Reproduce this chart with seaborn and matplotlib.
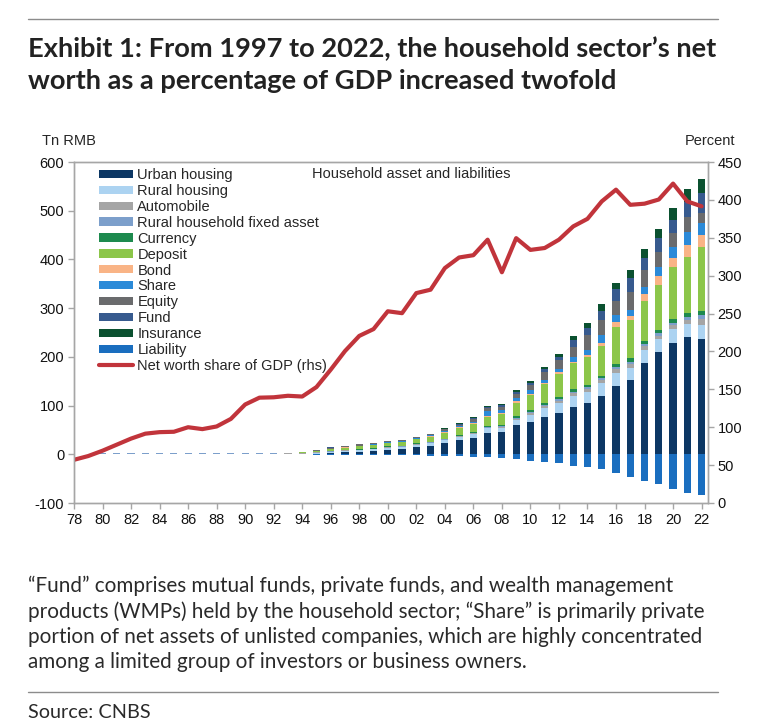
"""Exhibit 1: household assets and liabilities with net worth share of GDP."""
import matplotlib
matplotlib.use("Agg")
import matplotlib.pyplot as plt
from matplotlib.lines import Line2D
from matplotlib.patches import Patch
from matplotlib import font_manager
import pandas as pd
import seaborn as sns

# ---- data (Tn RMB, bars 1980-2022; line in percent, 1978-2022) ----
YEARS = list(range(1980, 2023))
LINE_YEARS = list(range(1978, 2023))

URBAN_HOUSING = [0, 0, 0, 0, 0, 0, 0, 0, 0, 0, 0, 0, 0, 0, 0,
                 0.8, 2, 4, 5, 6.5, 9.8, 10.5, 15.3, 18, 22.8, 29.5, 33, 44.5, 45.2, 60.3,
                 67.2, 77.3, 85.5, 97.8, 104.7, 120.4, 140.3, 152.6, 186.8, 209.4, 229.2, 240.2, 237.4]
RURAL_HOUSING = [0.3, 0.3, 0.3, 0.3, 0.3, 0.3, 0.4, 0.4, 0.4, 0.4, 0.5, 0.5, 0.6, 0.8, 1.0,
                 2.8, 3.3, 3.5, 3.8, 4.0, 4.0, 4.5, 4.5, 5.0, 6.0, 6.5, 9.0, 8.5, 9.0, 10,
                 14, 17, 20, 21.9, 24, 26.7, 27.3, 23.9, 27.4, 26.7, 27.4, 27.3, 28.1]
AUTOMOBILE = [1.0, 1.0, 1.0, 1.0, 1.0, 1.0, 1.0, 1.0, 1.0, 1.0, 1.0, 1.0, 1.0, 1.0, 1.0,
              0.3, 0.4, 0.4, 0.5, 0.5, 0.6, 0.7, 0.8, 0.9, 1.1, 1.2, 1.5, 1.8, 2.1, 2.7,
              3.6, 4.2, 4.8, 5.3, 5.3, 5.3, 7.4, 8.2, 7.4, 7.4, 8.2, 9.1, 12.3]
RURAL_FIXED_ASSET = [0.6, 0.6, 0.6, 0.6, 0.6, 0.6, 0.6, 0.6, 0.6, 0.6, 0.6, 0.6, 0.6, 0.6, 0.6,
                     0.2, 0.2, 0.3, 0.3, 0.4, 0.4, 0.5, 0.5, 0.6, 0.7, 0.8, 1.0, 1.2, 1.4, 1.8,
                     2.4, 2.8, 3.2, 3.6, 3.6, 3.6, 4.9, 5.5, 4.9, 4.9, 5.5, 6.0, 8.2]
CURRENCY = [0.1, 0.1, 0.1, 0.1, 0.1, 0.1, 0.1, 0.1, 0.1, 0.1, 0.1, 0.2, 0.2, 0.2, 0.3,
            0.8, 0.9, 1.0, 1.1, 1.2, 1.3, 1.4, 1.5, 1.6, 1.8, 2.0, 2.2, 2.5, 2.8, 3.0,
            3.5, 4.0, 4.5, 4.8, 4.8, 4.8, 5.5, 6.8, 6.8, 6.8, 6.8, 8.2, 8.2]
DEPOSIT = [0.2, 0.2, 0.2, 0.2, 0.2, 0.3, 0.3, 0.3, 0.3, 0.4, 0.4, 0.5, 0.6, 0.8, 1.0,
           2.2, 3.8, 4.5, 5.5, 6.0, 6.5, 7.5, 8.5, 10, 12, 13.5, 16, 18, 23, 28,
           31, 39, 47, 53.4, 56.8, 61.6, 76.6, 79, 82.2, 92.4, 108.1, 115, 132.1]
BOND = [0, 0, 0, 0, 0, 0, 0, 0, 0, 0, 0, 0, 0, 0, 0,
        0.3, 0.5, 0.6, 0.7, 0.8, 0.8, 0.9, 1.0, 1.2, 1.5, 1.5, 1.5, 1.5, 2.0, 3.0,
        3.0, 3.0, 3.5, 3.4, 4.8, 6.8, 10, 7, 13.7, 18.5, 17.2, 23.9, 24]
SHARE = [0, 0, 0, 0, 0, 0, 0, 0, 0, 0, 0, 0, 0, 0, 0,
         0.3, 0.5, 0.5, 0.6, 0.8, 0.9, 1.0, 1.2, 1.5, 2.0, 2.5, 3.0, 10, 5, 6,
         8, 6, 7, 8.9, 10.3, 15.7, 13, 13, 15, 19.1, 23.9, 27.4, 23.9]
EQUITY = [0, 0, 0, 0, 0, 0, 0, 0, 0, 0, 0, 0, 0, 0, 0,
          0.9, 2.3, 2.5, 3.0, 3.1, 2.0, 2.2, 2.2, 2.3, 3.0, 3.5, 5.5, 6, 6, 8,
          9, 15, 18, 21.9, 30.8, 30.8, 30, 37.7, 34.2, 30.8, 27.4, 30.8, 21.9]
FUND = [0, 0, 0, 0, 0, 0, 0, 0, 0, 0, 0, 0, 0, 0, 0,
        0.1, 0.2, 0.2, 0.3, 0.3, 0.4, 0.4, 0.5, 0.5, 1.5, 1.5, 1.8, 3.0, 4.5, 5,
        5, 6, 7, 13.7, 13.7, 19.2, 24, 27.3, 24, 27.4, 27.3, 30.8, 41.1]
INSURANCE = [0, 0, 0, 0, 0, 0, 0, 0, 0, 0, 0, 0, 0, 0, 0,
             0.1, 0.2, 0.2, 0.3, 0.3, 0.3, 0.4, 0.5, 0.4, 0.9, 1.1, 1.4, 2.0, 2.3, 4.0,
             4.5, 5.0, 5.5, 8.2, 11.6, 13.7, 12, 17.1, 19.1, 19.2, 24, 26, 27.3]
LIABILITY = [-0.2, -0.2, -0.2, -0.2, -0.2, -0.2, -0.2, -0.2, -0.2, -0.2, -0.2, -0.2, -0.2, -0.3, -0.3,
             -0.5, -0.6, -0.7, -0.8, -0.9, -1.0, -1.5, -2.0, -2.8, -3.4, -4.1, -4.8, -6.2, -6.9, -10.3,
             -13.7, -16.5, -18.5, -24, -26.7, -30.8, -39, -45.9, -54.8, -61.6, -70.5, -78.7, -83.5]
NET_WORTH_SHARE = [57, 62, 69, 77, 85, 91.5, 93.5, 94, 100, 97.5, 101, 111, 130, 139, 139.5,
                   141.5, 140.5, 153, 176, 200.5, 220.5, 229.5, 253, 250.5, 277, 281.5, 310, 324, 327,
                   347.5, 304.5, 349.5, 334, 336.5, 347.5, 365, 375, 398, 413.5, 393.5, 395, 400.5,
                   421.5, 398, 391.5]

CATEGORIES = ["Urban housing", "Rural housing", "Automobile", "Rural household fixed asset",
              "Currency", "Deposit", "Bond", "Share", "Equity", "Fund", "Insurance"]
SERIES = [URBAN_HOUSING, RURAL_HOUSING, AUTOMOBILE, RURAL_FIXED_ASSET, CURRENCY, DEPOSIT,
          BOND, SHARE, EQUITY, FUND, INSURANCE]
COLORS = {
    "Urban housing": "#0c3764",
    "Rural housing": "#acd3f1",
    "Automobile": "#a5a5a5",
    "Rural household fixed asset": "#7c9fcb",
    "Currency": "#1d8a4e",
    "Deposit": "#8cc64a",
    "Bond": "#f9b486",
    "Share": "#2b8ad8",
    "Equity": "#6a6b6d",
    "Fund": "#375a8e",
    "Insurance": "#0b5130",
}
LIABILITY_COLOR = "#1a6ebf"
LINE_COLOR = "#c1343b"

W, H = 759, 724


def fx(px):
    return px / W


def fy(py):
    return 1 - py / H


def pick_font(names):
    have = {f.name for f in font_manager.fontManager.ttflist}
    for n in names:
        if n in have:
            return n
    return "DejaVu Sans"


sns.set_style("ticks")
CHART_FONT = pick_font(["Liberation Sans", "Arial"])
TEXT_FONT = pick_font(["Lato", "Open Sans", "Roboto"])
plt.rcParams["font.family"] = [CHART_FONT, "DejaVu Sans"]
plt.rcParams["axes.unicode_minus"] = False

assets = pd.DataFrame(dict(zip(CATEGORIES, SERIES)))
assets["year"] = YEARS
assets = assets.melt(id_vars="year", var_name="category", value_name="value")

fig = plt.figure(figsize=(W / 100, H / 100), dpi=100)
ax = fig.add_axes([fx(74), fy(503), fx(708) - fx(74), fy(162) - fy(503)])

# seaborn stacks the last hue level at the bottom
sns.histplot(data=assets, x="year", weights="value", hue="category",
             hue_order=CATEGORIES[::-1], palette=COLORS, multiple="stack",
             discrete=True, shrink=0.5, alpha=1, linewidth=0, legend=False, ax=ax)
sns.histplot(x=YEARS, weights=LIABILITY, discrete=True, shrink=0.5,
             color=LIABILITY_COLOR, alpha=1, linewidth=0, ax=ax)

ax.set_xlim(1978, 2022.45)
ax.set_ylim(-100, 600)
ax.set_yticks(range(-100, 601, 100))
ax.set_xticks(range(1978, 2023, 2))
ax.set_xticklabels([f"{y % 100:02d}" for y in range(1978, 2023, 2)])
ax.set_xlabel("")
ax.set_ylabel("")

ax2 = ax.twinx()
sns.lineplot(x=LINE_YEARS, y=NET_WORTH_SHARE, color=LINE_COLOR, lw=3, ax=ax2)
ax2.set_ylim(0, 450)
ax2.set_yticks(range(0, 451, 50))
ax2.set_ylabel("")

for a in (ax, ax2):
    for s in a.spines.values():
        s.set_visible(True)
        s.set_color("#a6a6a6")
        s.set_linewidth(1)
    a.tick_params(axis="both", direction="out", length=4, width=1, color="#a6a6a6",
                  labelsize=10.5, labelcolor="#111111", pad=3)

handles = [Patch(facecolor=COLORS[c], edgecolor="none", label=c) for c in CATEGORIES]
handles.append(Patch(facecolor=LIABILITY_COLOR, edgecolor="none", label="Liability"))
handles.append(Line2D([], [], color=LINE_COLOR, lw=3, label="Net worth share of GDP (rhs)"))
ax2.legend(handles=handles, loc="upper left", bbox_to_anchor=(0.04, 0.982), frameon=False,
           fontsize=10.5, borderaxespad=0, borderpad=0, handlelength=2.3, handleheight=0.5,
           handletextpad=0.3, labelspacing=0.13)

ax2.text(0.375, 0.965, "Household asset and liabilities", transform=ax2.transAxes,
         fontsize=10.5, va="center", ha="left")

fig.text(fx(42), fy(141), "Tn RMB", fontsize=10.5, va="center", ha="left")
fig.text(fx(685), fy(141), "Percent", fontsize=10.5, va="center", ha="left")

# header, footnote and rules
fig.add_artist(Line2D([fx(28), fx(718)], [fy(19), fy(19)], color="#8c8c8c", lw=1))
fig.text(fx(28), fy(57), "Exhibit 1: From 1997 to 2022, the household sector\u2019s net",
         family=TEXT_FONT, fontweight="bold", fontsize=19.6, color="#222222", va="baseline")
fig.text(fx(28), fy(89), "worth as a percentage of GDP increased twofold",
         family=TEXT_FONT, fontweight="bold", fontsize=19.6, color="#222222", va="baseline")

notes = ["\u201cFund\u201d comprises mutual funds, private funds, and wealth management",
         "products (WMPs) held by the household sector; \u201cShare\u201d is primarily private",
         "portion of net assets of unlisted companies, which are highly concentrated",
         "among a limited group of investors or business owners."]
for i, line in enumerate(notes):
    fig.text(fx(28), fy(586 + i * 25.5), line, family=TEXT_FONT, fontsize=14.9,
             color="#2a2a2a", va="center")
fig.add_artist(Line2D([fx(28), fx(718)], [fy(692), fy(692)], color="#8c8c8c", lw=1))
fig.text(fx(28), fy(713), "Source: CNBS", family=TEXT_FONT, fontsize=14.3,
         color="#2a2a2a", va="center")

fig.savefig("out.png", dpi=100)
plt.close(fig)
